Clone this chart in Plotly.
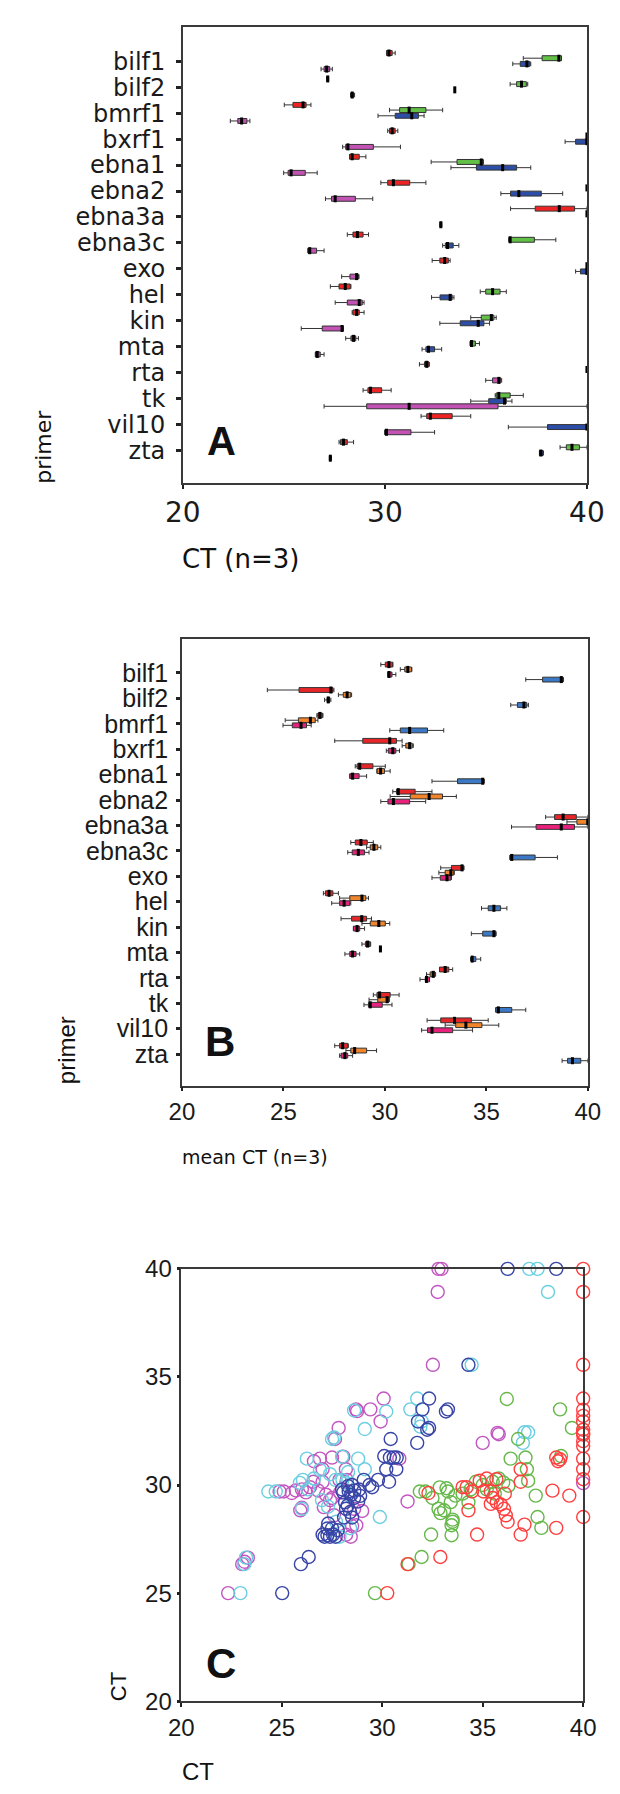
import plotly.graph_objects as go

CATS = ["bilf1", "bilf2", "bmrf1", "bxrf1", "ebna1", "ebna2", "ebna3a", "ebna3c",
        "exo", "hel", "kin", "mta", "rta", "tk", "vil10", "zta"]

# (lower whisker, q1, median, q3, upper whisker) per primer; None = no box
A_RED = [(30.08, 30.08, 30.2, 30.36, 30.51), (27.12, 27.14, 27.17, 27.2, 27.22),
         (25.02, 25.45, 25.95, 26.1, 26.34), (30.14, 30.23, 30.36, 30.51, 30.64),
         (28.25, 28.25, 28.38, 28.73, 29.06), (29.8, 30.14, 30.42, 31.23, 32.03),
         (36.22, 37.44, 38.63, 39.39, 40.0), (28.14, 28.42, 28.64, 28.92, 29.19),
         (32.34, 32.72, 32.96, 33.14, 33.23), (27.3, 27.73, 28.04, 28.29, 28.32),
         (28.38, 28.42, 28.6, 28.73, 28.97), (28.06, 28.32, 28.45, 28.56, 28.69),
         (31.71, 31.96, 32.07, 32.18, 32.2), (28.92, 29.16, 29.29, 29.84, 30.31),
         (31.79, 32.07, 32.25, 33.33, 34.25), (27.73, 27.8, 27.95, 28.14, 28.45)]
A_GREEN = [(36.85, 37.78, 38.61, 38.74, 38.74), (36.2, 36.52, 36.76, 37.0, 37.07),
           (30.23, 30.73, 31.2, 32.03, 32.86), (40, 40, 40, 40, 40),
           (32.29, 33.57, 34.77, 34.87, 34.87), (40, 40, 40, 40, 40),
           (40, 40, 40, 40, 40), (36.14, 36.14, 36.2, 37.4, 38.46),
           (40, 40, 40, 40, 40), (34.72, 34.99, 35.33, 35.7, 36.01),
           (34.25, 34.77, 35.27, 35.4, 35.51), (34.22, 34.22, 34.29, 34.48, 34.68),
           (40, 40, 40, 40, 40), (35.46, 35.51, 35.64, 36.2, 36.85),
           None, (38.67, 38.98, 39.26, 39.63, 40.0)]
A_BLUE = [(36.33, 36.7, 37.03, 37.18, 37.22), (33.44, 33.45, 33.46, 33.47, 33.48),
          (29.66, 30.51, 31.33, 31.66, 31.94), (38.92, 39.44, 40, 40, 40),
          (33.27, 34.53, 35.83, 36.52, 37.22), (35.74, 36.22, 36.63, 37.74, 38.8),
          None, (32.86, 32.99, 33.1, 33.38, 33.66),
          (39.44, 39.68, 40, 40, 40), (32.31, 32.73, 33.23, 33.33, 33.42),
          (32.72, 33.73, 34.62, 34.9, 35.18), (31.84, 32.03, 32.16, 32.46, 32.81),
          None, (34.25, 35.14, 35.92, 36.01, 36.29),
          (36.11, 38.05, 40, 40, 40), (37.65, 37.65, 37.72, 37.83, 37.85)]
A_MAG = [(26.84, 26.99, 27.12, 27.27, 27.4), (28.3, 28.33, 28.38, 28.45, 28.5),
         (22.35, 22.72, 22.91, 23.17, 23.32), (27.91, 28.06, 28.17, 29.43, 30.77),
         (24.99, 25.21, 25.36, 26.06, 26.65), (27.06, 27.36, 27.54, 28.54, 29.4),
         (32.72, 32.74, 32.77, 32.8, 32.82), (26.19, 26.19, 26.28, 26.62, 26.99),
         (27.86, 28.27, 28.6, 28.69, 28.72), (27.54, 28.14, 28.73, 28.88, 28.97),
         (25.86, 26.9, 27.88, 27.95, 27.95), (26.56, 26.56, 26.65, 26.8, 26.99),
         (34.99, 35.33, 35.64, 35.74, 35.78), (26.99, 29.1, 31.2, 35.6, 40.0),
         (29.99, 29.99, 30.08, 31.29, 32.46), (27.25, 27.27, 27.3, 27.33, 27.35)]

B_RED = [(29.8, 30.02, 30.2, 30.39, 30.39), (24.21, 25.77, 27.34, 27.44, 27.49),
         (26.65, 26.7, 26.8, 26.92, 26.95), (27.53, 28.91, 30.24, 30.57, 30.85),
         (28.54, 28.63, 28.76, 29.41, 30.02), (30.39, 30.57, 30.66, 31.49, 32.32),
         (37.92, 38.36, 38.78, 39.43, 40.0), (28.32, 28.54, 28.82, 29.13, 29.43),
         (32.75, 33.28, 33.8, 33.86, 33.9), (26.97, 27.07, 27.25, 27.44, 27.71),
         (27.84, 28.36, 28.86, 29.1, 29.34), (28.87, 29.04, 29.15, 29.28, 29.3),
         (32.69, 32.69, 32.97, 33.15, 33.34), (29.43, 29.61, 29.74, 30.26, 30.7),
         (32.08, 32.75, 33.43, 34.26, 35.09), (27.53, 27.77, 27.92, 28.17, 28.2)]
B_ORANGE = [(30.76, 30.98, 31.13, 31.31, 31.33), (27.71, 27.95, 28.14, 28.32, 28.36),
            (25.09, 25.74, 26.33, 26.57, 26.7), (30.85, 31.03, 31.22, 31.35, 31.4),
            (29.61, 29.61, 29.79, 29.98, 30.26), (30.26, 31.25, 32.18, 32.84, 33.52),
            (38.97, 39.46, 40, 40, 40), (29.1, 29.28, 29.46, 29.65, 29.8),
            (32.66, 32.97, 33.25, 33.39, 33.42), (27.77, 28.27, 28.87, 29.06, 29.19),
            (28.87, 29.28, 29.7, 30.02, 30.24), (29.74, 29.76, 29.78, 29.8, 29.82),
            (32.05, 32.23, 32.38, 32.47, 32.5), (29.22, 29.65, 30.11, 30.2, 30.22),
            (32.97, 33.49, 33.99, 34.78, 35.61), (28.08, 28.32, 28.51, 29.1, 29.59)]
B_PINK = [(30.15, 30.15, 30.2, 30.35, 30.54), (27.03, 27.15, 27.21, 27.28, 27.34),
          (24.98, 25.44, 25.87, 26.14, 26.37), (30.07, 30.17, 30.39, 30.54, 30.72),
          (28.27, 28.27, 28.41, 28.73, 29.1), (29.8, 30.15, 30.42, 31.22, 32.01),
          (36.24, 37.45, 38.69, 39.34, 40.0), (28.17, 28.39, 28.69, 29.0, 29.22),
          (32.32, 32.73, 33.06, 33.25, 33.28), (27.38, 27.77, 27.99, 28.27, 28.32),
          (28.45, 28.45, 28.63, 28.76, 29.0), (28.03, 28.27, 28.41, 28.58, 28.76),
          (31.73, 31.99, 32.05, 32.2, 32.2), (28.97, 29.19, 29.28, 29.87, 30.35),
          (31.81, 32.1, 32.32, 33.34, 34.32), (27.77, 27.84, 28.03, 28.17, 28.41)]
B_BLUE = [(36.94, 37.77, 38.69, 38.78, 38.8), (36.2, 36.53, 36.85, 36.99, 37.07),
          (30.24, 30.76, 31.22, 32.1, 32.9), None,
          (32.32, 33.58, 34.82, 34.87, 34.9), None,
          None, (36.16, 36.16, 36.25, 37.4, 38.5),
          None, (34.76, 35.09, 35.37, 35.7, 36.01),
          (34.26, 34.82, 35.37, 35.46, 35.48), (34.22, 34.26, 34.3, 34.48, 34.72),
          None, (35.46, 35.46, 35.59, 36.25, 36.94),
          None, (38.73, 39.0, 39.24, 39.65, 40.0)]

# Panel C scatter (x CT, y CT)
C_MAG_X = [32.8, 32.95, 32.76, 32.52, 30.07, 28.7, 28.75, 29.41, 29.92, 27.83, 27.65, 35.0, 35.74, 35.8,
           26.9, 27.5, 28.06, 30.85, 27.03, 28.19, 24.89, 25.5, 26.2, 26.57, 27.03, 27.87, 28.24, 25.92,
           27.09, 28.71, 31.26, 40.0, 26.4, 26.8, 27.2, 27.4, 27.6, 28.2, 28.43, 28.5, 28.6, 26.0, 23.31,
           23.03, 23.15, 22.33, 26.0, 25.7, 27.5, 26.6, 29.0, 27.9, 25.1]
C_MAG_Y = [40.0, 40.0, 38.93, 35.56, 34.0, 33.5, 33.42, 33.5, 32.94, 32.64, 32.13, 31.95, 32.41, 32.35,
           31.22, 31.27, 31.31, 31.22, 30.73, 30.73, 29.7, 29.63, 29.66, 30.15, 30.15, 30.24, 30.24, 28.83,
           28.98, 28.14, 29.24, 30.09, 29.9, 29.75, 29.55, 29.3, 28.6, 27.7, 27.61, 28.1, 28.9, 28.95, 26.64,
           26.34, 26.45, 25.0, 29.8, 29.75, 29.4, 31.1, 28.8, 29.65, 29.7]
C_CYAN_X = [37.32, 37.73, 38.25, 34.45, 31.74, 30.2, 31.4, 31.96, 29.13, 27.5, 37.08, 37.26, 37.0,
            26.25, 28.8, 28.0, 26.05, 27.68, 28.02, 29.13, 24.33, 24.7, 26.0, 29.88, 27.87, 23.22,
            23.13, 22.94, 28.6, 27.6, 28.3, 26.9, 27.4, 26.3, 27.0, 27.3, 28.4, 28.2, 27.7, 28.4,
            26.6, 25.9, 31.9]
C_CYAN_Y = [40.0, 40.0, 38.93, 35.56, 34.0, 33.4, 33.5, 32.94, 32.59, 32.13, 32.44, 32.44, 31.95,
            31.22, 31.22, 31.31, 30.24, 30.24, 30.24, 30.73, 29.7, 29.7, 28.9, 28.52, 27.61, 26.64,
            26.34, 25.0, 33.45, 32.2, 30.6, 30.7, 30.5, 29.8, 29.3, 29.0, 29.5, 30.1, 28.3, 28.0,
            30.3, 30.1, 32.7]
C_BLUE_X = [36.24, 38.66, 34.29, 32.33, 32.0, 33.17, 33.27, 31.78, 32.24, 32.33, 31.74, 30.42, 30.1,
            30.38, 30.57, 30.72, 30.2, 30.7, 30.34, 29.79, 29.36, 29.08, 28.06, 28.33, 28.61, 28.84,
            28.15, 28.28, 28.8, 28.2, 28.4, 27.31, 27.27, 27.5, 27.03, 27.27, 27.55, 27.13, 27.4,
            27.68, 27.78, 28.5, 28.6, 28.0, 28.3, 28.5, 28.9, 29.5, 25.95, 26.34, 25.02, 28.1, 28.45]
C_BLUE_Y = [40.0, 40.0, 35.56, 34.0, 33.5, 33.4, 33.5, 32.94, 32.56, 32.64, 31.95, 32.13, 31.34,
            31.27, 31.27, 31.27, 30.73, 30.73, 30.15, 30.24, 30.0, 30.24, 29.66, 29.7, 29.74, 29.79,
            29.2, 29.05, 29.24, 28.9, 28.75, 28.22, 27.99, 27.99, 27.71, 27.68, 27.71, 27.61, 27.61,
            27.61, 27.91, 28.5, 29.4, 29.8, 29.95, 30.0, 29.5, 29.9, 26.34, 26.67, 25.0, 28.5, 29.55]
C_GREEN_X = [36.2, 38.85, 39.44, 36.76, 36.39, 37.13, 37.2, 37.26, 38.9, 31.87, 32.15, 32.86, 33.27,
             33.64, 32.8, 33.08, 33.41, 33.5, 33.45, 32.43, 33.45, 34.66, 35.5, 36.02, 36.28, 34.29,
             37.64, 37.73, 37.92, 31.96, 31.31, 29.64, 32.9, 33.2, 34.0, 35.0, 35.2, 35.8, 33.5, 35.6,
             34.4, 32.5]
C_GREEN_Y = [33.98, 33.5, 32.64, 32.13, 31.22, 31.27, 30.73, 30.2, 31.34, 29.7, 29.7, 29.89, 29.7,
             29.51, 28.9, 28.83, 29.21, 28.3, 28.14, 27.71, 27.68, 30.15, 30.15, 30.12, 29.97, 29.2,
             29.51, 28.52, 28.02, 26.67, 26.34, 25.0, 28.7, 29.85, 29.6, 30.0, 29.8, 30.3, 28.4, 29.6,
             29.8, 29.4]
C_RED_X = [40.0, 40.0, 40.0, 40.0, 40.0, 40.0, 40.0, 40.0, 40.0, 40.0, 40.0, 40.0, 40.0, 40.0, 40.0,
           40.0, 38.66, 38.85, 38.75, 36.89, 36.89, 38.47, 39.31, 38.66, 32.3, 34.2, 34.47, 34.85, 35.03,
           35.4, 35.68, 34.72, 35.4, 35.7, 36.06, 36.15, 36.24, 36.89, 37.08, 34.29, 31.26, 32.89, 30.25,
           35.2, 34.0, 35.9, 36.1, 35.5]
C_RED_Y = [40.0, 38.93, 35.56, 34.0, 33.48, 33.2, 32.94, 32.56, 32.4, 32.33, 32.03, 31.8, 31.22, 30.73,
           30.27, 28.52, 31.27, 31.19, 31.1, 30.73, 30.15, 29.74, 29.51, 28.02, 29.63, 29.9, 29.7, 30.2,
           29.7, 29.7, 30.27, 27.71, 29.13, 29.2, 28.9, 28.6, 28.3, 27.71, 28.17, 28.83, 26.34, 26.67,
           25.0, 30.3, 29.9, 29.1, 29.6, 29.4]

A_SERIES = [(A_RED, "#ee2424", -0.32), (A_GREEN, "#62c046", -0.12),
            (A_BLUE, "#2c4ea6", 0.10), (A_MAG, "#c252b4", 0.30)]
B_SERIES = [(B_RED, "#e8262a", -0.33), (B_ORANGE, "#f2842a", -0.14),
            (B_PINK, "#e8217c", 0.06), (B_BLUE, "#3b79c6", 0.26)]
C_SERIES = [(C_MAG_X, C_MAG_Y, "#c257c2"), (C_CYAN_X, C_CYAN_Y, "#6ccfe0"),
            (C_GREEN_X, C_GREEN_Y, "#66b84a"), (C_RED_X, C_RED_Y, "#ff3f3f"),
            (C_BLUE_X, C_BLUE_Y, "#3844a6")]

fig = go.Figure()


def add_boxes(series, xa, ya):
    for data, color, off in series:
        pos, lo, q1, med, q3, hi = [], [], [], [], [], []
        for i, v in enumerate(data):
            if v is None:
                continue
            pos.append(i + off)
            lo.append(v[0]); q1.append(v[1]); med.append(v[2]); q3.append(v[3]); hi.append(v[4])
        fig.add_trace(go.Box(orientation="h", y=pos, lowerfence=lo, q1=q1, median=med, q3=q3,
                             upperfence=hi, width=0.19, whiskerwidth=0.9, boxpoints=False,
                             fillcolor=color, line=dict(color="#333333", width=1),
                             xaxis=xa, yaxis=ya, showlegend=False, hoverinfo="skip"))
        fig.add_trace(go.Scatter(x=med, y=pos, mode="markers", cliponaxis=False,
                                 marker=dict(symbol="line-ns", size=5,
                                             line=dict(width=3, color="#000000")),
                                 xaxis=xa, yaxis=ya, showlegend=False, hoverinfo="skip"))


add_boxes(A_SERIES, "x", "y")
add_boxes(B_SERIES, "x2", "y2")

for xs, ys, color in C_SERIES:
    fig.add_trace(go.Scatter(x=xs, y=ys, mode="markers", cliponaxis=False,
                             marker=dict(symbol="circle-open", size=13,
                                         line=dict(width=1.4, color=color), color=color),
                             xaxis="x3", yaxis="y3", showlegend=False, hoverinfo="skip"))

H = 1794.0
W = 620.0
FONT = "Liberation Sans, Arial, sans-serif"
WIDE = "DejaVu Sans, sans-serif"
AX = dict(showline=True, linecolor="#3a3a3a", linewidth=1.5, mirror=True, showgrid=False,
          zeroline=False, ticks="outside", tickcolor="#222", ticklen=4, tickwidth=2)

fig.update_layout(
    width=620, height=1794, autosize=False,
    margin=dict(l=0, r=0, t=0, b=0),
    paper_bgcolor="white", plot_bgcolor="white",
    boxmode="overlay",
    font=dict(family=FONT, color="#1a1a1a"),
    xaxis=dict(AX, domain=[175 / W, 604 / W], range=[20, 40], tickvals=[20, 30, 40],
               tickfont=dict(size=28, family=WIDE), anchor="y"),
    yaxis=dict(AX, domain=[1 - 476 / H, 1 - 13 / H], range=[16.25, -1.33],
               tickvals=list(range(len(CATS))), ticktext=CATS,
               tickfont=dict(size=24, family=WIDE),
               ticklen=5, tickwidth=3, ticklabelstandoff=6, anchor="x"),
    xaxis2=dict(AX, domain=[174 / W, 605 / W], range=[20, 40], tickvals=[20, 25, 30, 35, 40],
                tickfont=dict(size=24), anchor="y2"),
    yaxis2=dict(AX, domain=[1 - 1088 / H, 1 - 635 / H], range=[16.24, -1.32],
                tickvals=list(range(len(CATS))), ticktext=CATS, tickfont=dict(size=25),
                ticklen=4, tickwidth=3, ticklabelstandoff=3, anchor="x2"),
    xaxis3=dict(AX, domain=[173.4 / W, 600 / W], range=[20, 40], tickvals=[20, 25, 30, 35, 40],
                tickfont=dict(size=24), anchor="y3"),
    yaxis3=dict(AX, domain=[1 - 1713 / H, 1 - 1274 / H], range=[20, 40],
                tickvals=[20, 25, 30, 35, 40], tickfont=dict(size=24), ticklen=3, tickwidth=3,
                anchor="x3"),
)


def px_ann(text, x, y, size, family=FONT, angle=0, bold=False, xanchor="center"):
    fig.add_annotation(text=("<b>%s</b>" % text) if bold else text, x=x / W, y=1 - y / H,
                       xref="paper", yref="paper", showarrow=False, textangle=angle,
                       xanchor=xanchor, yanchor="middle",
                       font=dict(size=size, family=family, color="#111"))


px_ann("CT (n=3)", 172, 553, 26, family=WIDE, xanchor="left")
px_ann("mean CT (n=3)", 172, 1160, 19, family=WIDE, xanchor="left")
px_ann("primer", 27, 439, 22, family=WIDE, angle=-90)
px_ann("primer", 51, 1052, 24, angle=-90)
px_ann("CT", 107, 1698, 22, angle=-90)
px_ann("CT", 172, 1784, 24, xanchor="left")
px_ann("A", 216, 434, 40, bold=True)
px_ann("B", 214, 1043, 42, bold=True)
px_ann("C", 216, 1675, 42, bold=True)

fig.write_html("out.html", config={"displayModeBar": False},
               post_script="document.body.style.margin='0px';")
